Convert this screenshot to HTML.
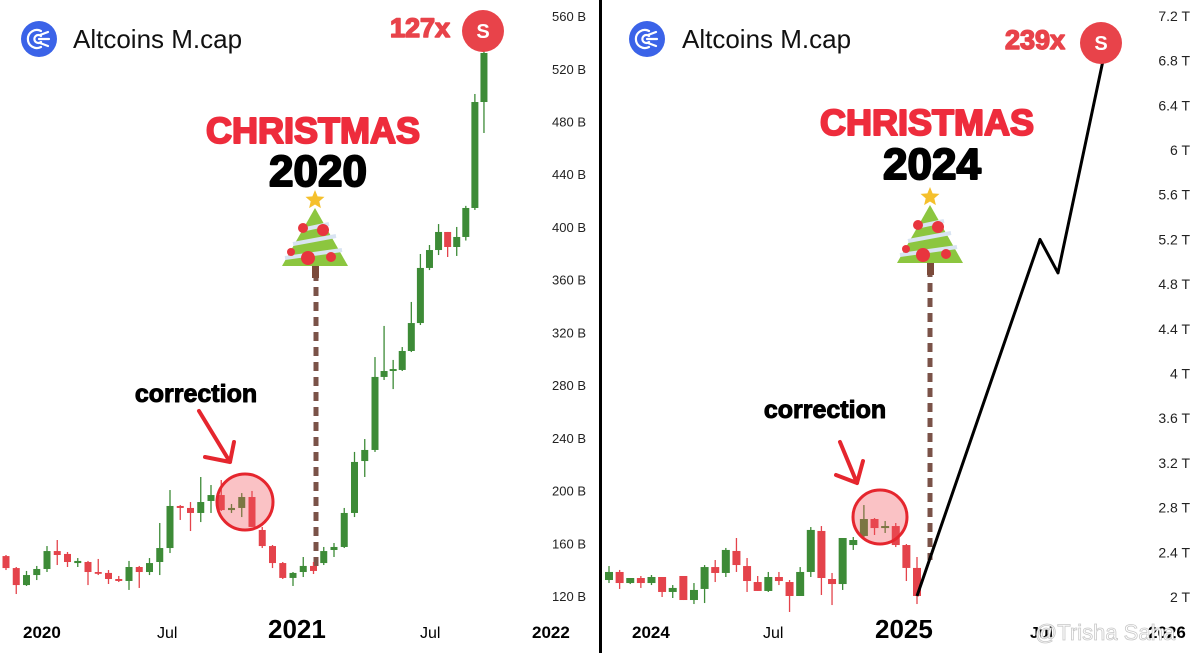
<!DOCTYPE html>
<html><head><meta charset="utf-8"><style>
html,body{margin:0;padding:0;background:#fff;}
svg{display:block;font-family:"Liberation Sans",Arial,sans-serif;}
</style></head><body>
<svg id="c" width="1200" height="653" viewBox="0 0 1200 653">
<rect width="1200" height="653" fill="#fff"/>
<g id="L"></g>
<g id="R"></g>
<rect x="599" y="0" width="3" height="653" fill="#000"/>
</svg>
<script>
// Left chart (Altcoins market cap 2020-2021, billions)
const leftOpen=[150.3,141.2,128.3,135.9,140.5,154.1,151.9,145.0,145.8,138.2,137.5,132.9,131.4,142.0,138.2,145.8,156.4,188.3,186.8,183.0,192.1,196.6,185.2,186.8,195.1,170.1,157.9,145.0,133.7,138.2,142.8,145.0,154.9,157.2,183.0,222.4,230.8,286.2,290.7,291.5,305.9,327.1,368.9,382.5,396.2,384.8,392.4,414.4,494.8];
const leftClose=[141.2,128.3,135.9,140.5,154.1,151.1,145.8,146.6,138.2,137.5,132.9,131.4,142.0,138.2,145.0,156.4,188.3,186.8,183.0,191.3,196.6,185.2,186.8,195.1,172.4,157.9,145.0,133.7,137.5,142.8,139.0,154.1,157.2,183.0,221.7,230.8,286.2,290.7,292.2,305.9,327.1,368.9,382.5,396.2,384.8,392.4,414.4,494.8,532.0];
const leftHigh=[151.1,142.0,139.0,142.8,157.9,162.5,153.4,148.8,146.6,148.1,139.7,135.2,146.6,142.8,148.8,175.4,200.4,189.0,191.3,210.3,204.2,208.0,189.8,198.1,199.7,172.4,158.7,145.8,138.2,149.6,145.8,157.2,160.2,186.8,229.3,239.1,301.3,324.9,299.1,308.9,343.1,379.5,386.3,402.2,396.2,400.0,416.0,500.9,538.0];
const leftLow=[139.7,121.5,127.6,132.1,138.2,143.5,142.0,142.0,128.3,135.9,129.1,130.6,124.6,126.1,135.9,135.9,152.6,177.7,169.3,176.1,183.0,184.5,183.0,179.9,172.4,156.4,141.2,132.9,127.6,134.4,136.7,143.5,149.6,156.4,179.9,210.3,229.3,283.9,277.0,290.7,305.1,325.6,367.3,378.7,377.2,378.0,389.7,412.9,471.3];
const leftTicks=[560,520,480,440,400,360,320,280,240,200,160,120];
// Right chart (2024-2025, trillions)
const rightOpen=[2.152,2.224,2.125,2.170,2.125,2.179,2.045,2.188,1.973,2.072,2.268,2.215,2.412,2.277,2.134,2.054,2.179,2.134,2.009,2.224,2.591,2.161,2.116,2.465,2.546,2.698,2.617,2.635,2.465,2.260];
const rightClose=[2.224,2.125,2.170,2.125,2.179,2.045,2.081,1.973,2.063,2.268,2.215,2.421,2.286,2.143,2.054,2.179,2.143,2.009,2.224,2.600,2.170,2.116,2.528,2.510,2.698,2.617,2.635,2.465,2.260,2.009];
const rightHigh=[2.277,2.242,2.170,2.188,2.197,2.179,2.107,2.116,2.125,2.286,2.331,2.439,2.528,2.349,2.188,2.224,2.224,2.152,2.268,2.626,2.635,2.215,2.528,2.537,2.823,2.707,2.680,2.662,2.474,2.358];
const rightLow=[2.125,2.072,2.116,2.081,2.107,2.000,1.991,1.973,1.937,1.946,2.134,2.179,2.224,2.045,2.054,2.045,2.107,1.866,2.009,2.179,2.018,1.928,2.063,2.421,2.537,2.555,2.573,2.447,2.143,1.937];
const rightTicks=["7.2 T","6.8 T","6.4 T","6 T","5.6 T","5.2 T","4.8 T","4.4 T","4 T","3.6 T","3.2 T","2.8 T","2.4 T","2 T"];
const rightTickVals=[7.2,6.8,6.4,6.0,5.6,5.2,4.8,4.4,4.0,3.6,3.2,2.8,2.4,2.0];
const projVals=[2.009,5.2,4.9,6.8];

const NS="http://www.w3.org/2000/svg";
function mk(p,tag,attrs,txt){const e=document.createElementNS(NS,tag);for(const k in attrs)e.setAttribute(k,attrs[k]);if(txt!==undefined)e.textContent=txt;p.appendChild(e);return e;}
const GREEN="#3d8b37",RED="#e4434b";
const yL=v=>596-(v-120)*1.318;
const xL=i=>i<=36?6+i*10.25:375+(i-36)*9.08;
const yR=v=>597-(v-2)*111.75;
const xR=i=>609+i*(917-609)/29;

function candles(g,O,C,H,Lo,xf,yf,w,nm){
  for(let i=0;i<O.length;i++){
    const up=C[i]>=O[i],col=up?GREEN:RED,x=xf(i);
    const cg=mk(g,'g',{});
    
    
    mk(cg,'line',{x1:x,x2:x,y1:yf(H[i]),y2:yf(Lo[i]),stroke:col,'stroke-width':1.3});
    const t=Math.min(yf(O[i]),yf(C[i])),h=Math.max(1.8,Math.abs(yf(O[i])-yf(C[i])));
    mk(cg,'rect',{x:x-w/2,y:t,width:w,height:h,fill:col});
  }
}
function logo(g,cx,cy,tx,nm){
  const lg=mk(g,'g',{});
  
  
  mk(lg,'circle',{cx:cx,cy:cy,r:18,fill:"#3b63e8"});
  mk(lg,'path',{d:`M${cx+2} ${cy-8} A9 9 0 1 0 ${cx+2} ${cy+8} M${cx+2} ${cy-3} A4 4 0 1 0 ${cx+2} ${cy+3} M${cx} ${cy} H${cx+10} M${cx+1} ${cy-4} L${cx+9} ${cy-7} M${cx+1} ${cy+4} L${cx+9} ${cy+7}`,fill:"none",stroke:"#fff","stroke-width":2.2,"stroke-linecap":"round"});
  const t=mk(g,'text',{x:tx,y:cy+9,'font-size':26,fill:"#111"},"Altcoins M.cap");
  
  
}
function tree(g,cx,top,nm){
  const t=mk(g,'g',{});
  
  
  mk(t,'rect',{x:cx-3,y:top+65,width:7,height:13,fill:"#7b4a3a"});
  mk(t,'polygon',{points:`${cx},${top+8} ${cx-33},${top+66} ${cx+33},${top+66}`,fill:"#8cc63f"});
  mk(t,'path',{d:`M${cx-14} ${top+30} L${cx+14} ${top+24} M${cx-22} ${top+44} L${cx+21} ${top+36} M${cx-30} ${top+58} L${cx+27} ${top+50}`,stroke:"#d9e4f2","stroke-width":4});
  [[-12,28,5],[8,30,6],[-24,52,4],[-7,58,7],[16,57,5]].forEach(b=>mk(t,'circle',{cx:cx+b[0],cy:top+b[1],r:b[2],fill:"#e8353e"}));
  mk(t,'polygon',{points:starPts(cx,top,10,4.5),fill:"#f5c02c"});
}
function starPts(cx,cy,R,r){let p=[];for(let k=0;k<10;k++){const a=-Math.PI/2+k*Math.PI/5,rr=k%2?r:R;p.push((cx+rr*Math.cos(a)).toFixed(1)+','+(cy+rr*Math.sin(a)).toFixed(1));}return p.join(' ');}
function sBadge(g,cx,cy,nm){
  const s=mk(g,'g',{});
  
  
  mk(s,'circle',{cx:cx,cy:cy,r:21,fill:"#e8434a"});
  mk(s,'text',{x:cx,y:cy+7,'font-size':20,'font-weight':'bold',fill:"#fff",'text-anchor':'middle'},"S");
}
function label(g,x,y,txt,size,weight,anchor,fill,nm){
  const t=mk(g,'text',{x:x,y:y,'font-size':size,'font-weight':weight,'text-anchor':anchor,fill:fill},txt);
  
  
  return t;
}
function heavy(t,col,w){t.setAttribute('stroke',col);t.setAttribute('stroke-width',w);t.setAttribute('stroke-linejoin','round');return t;}
function arrow(g,x1,y1,x2,y2,a1,a2,nm){
  const a=mk(g,'path',{d:`M${x1} ${y1} L${x2} ${y2} M${a1[0]} ${a1[1]} L${x2} ${y2} L${a2[0]} ${a2[1]}`,fill:"none",stroke:"#e5262e","stroke-width":4,"stroke-linecap":"round","stroke-linejoin":"round"});
  
  
}

// LEFT
const L=document.getElementById('L');
logo(L,39,39,73,'left');
leftTicks.forEach(v=>label(L,586,yL(v)+5,v+" B",13,'normal','end',"#222",'left-y-tick-'+v));
[[23,"2020",17,'bold'],[157,"Jul",16,'normal'],[268,"2021",26,'bold'],[420,"Jul",16,'normal'],[532,"2022",17,'bold']].forEach(d=>label(L,d[0],638,d[1],d[2],d[3],'start',"#000",'left-x-label-'+d[1]));
const dl=mk(L,'line',{x1:316,x2:316,y1:272,y2:566,stroke:"#7a5248","stroke-width":5,"stroke-dasharray":"9 6"});


candles(L,leftOpen,leftClose,leftHigh,leftLow,xL,yL,7,'left');
const lc=mk(L,'circle',{cx:245,cy:502,r:28,fill:"rgba(240,80,90,0.35)",stroke:"#e5262e","stroke-width":3});


arrow(L,199,411,230,462,[205,457],[234,442],'left-correction-arrow');
heavy(label(L,196,402,"correction",25,'bold','middle',"#000",'left-correction-label'),"#000",1);
heavy(label(L,313,143,"CHRISTMAS",36,'bold','middle',"#ee2c3c",'left-christmas-label'),"#ee2c3c",2);
heavy(label(L,318,186,"2020",44,'bold','middle',"#000",'left-year-label'),"#000",2);
tree(L,315,200,'left');
heavy(label(L,420,37,"127x",27,'bold','middle',"#e8434a",'left-multiplier'),"#e8434a",1.5);
sBadge(L,483,31,'left');

// RIGHT
const R=document.getElementById('R');
logo(R,647,39,682,'right');
rightTickVals.forEach((v,i)=>label(R,1190,yR(v)+5,rightTicks[i],14,'normal','end',"#222",'right-y-tick-'+i));
[[632,"2024",17,'bold'],[763,"Jul",16,'normal'],[875,"2025",26,'bold'],[1030,"Jul",16,'bold'],[1148,"2026",17,'bold']].forEach(d=>label(R,d[0],638,d[1],d[2],d[3],'start',"#000",'right-x-label-'+d[1]));
const wm=label(R,1105,640,"@Trisha Saha",22,'normal','middle',"#fff",'watermark');
wm.setAttribute('stroke',"#c8c8c8");wm.setAttribute('stroke-width',0.8);
const dr=mk(R,'line',{x1:930,x2:930,y1:268,y2:560,stroke:"#7a5248","stroke-width":5,"stroke-dasharray":"9 6"});


candles(R,rightOpen,rightClose,rightHigh,rightLow,xR,yR,8,'right');
const rc=mk(R,'circle',{cx:880,cy:517,r:27,fill:"rgba(240,80,90,0.35)",stroke:"#e5262e","stroke-width":3});


arrow(R,840,442,857,483,[836,475],[863,461],'right-correction-arrow');
heavy(label(R,825,418,"correction",25,'bold','middle',"#000",'right-correction-label'),"#000",1);
heavy(label(R,927,135,"CHRISTMAS",36,'bold','middle',"#ee2c3c",'right-christmas-label'),"#ee2c3c",2);
heavy(label(R,932,179,"2024",44,'bold','middle',"#000",'right-year-label'),"#000",2);
tree(R,930,197,'right');
const projX=[917,1040,1058,1103];
const proj=mk(R,'polyline',{points:projVals.map((v,i)=>projX[i]+','+yR(v)).join(' '),fill:"none",stroke:"#000","stroke-width":3,"stroke-linejoin":"round"});


heavy(label(R,1035,49,"239x",27,'bold','middle',"#e8434a",'right-multiplier'),"#e8434a",1.5);
sBadge(R,1101,43,'right');
</script>
</body></html>
